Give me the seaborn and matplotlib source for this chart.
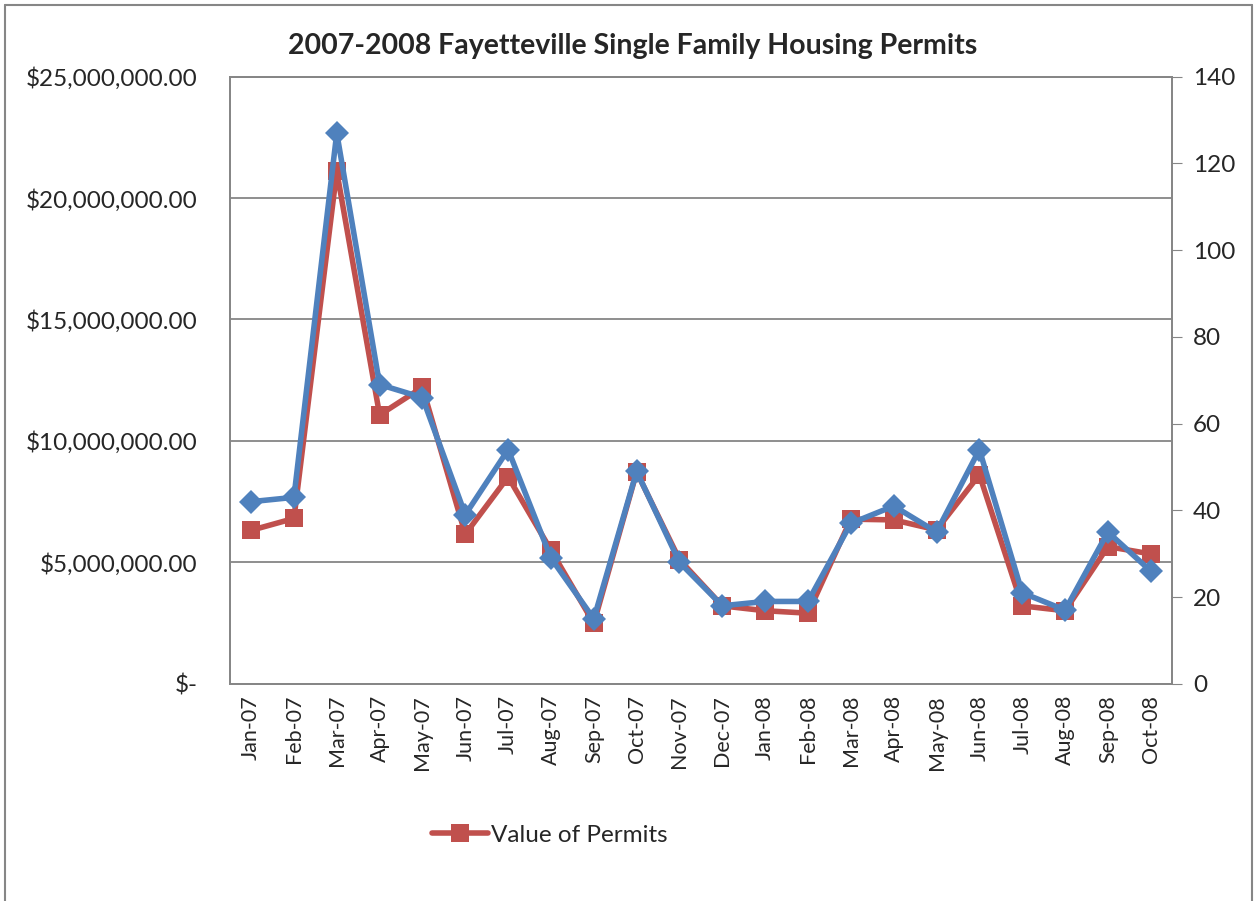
import numpy as np
import pandas as pd
import seaborn as sns
import matplotlib.pyplot as plt
from matplotlib.lines import Line2D
from matplotlib.ticker import FuncFormatter

months = ["Jan-07", "Feb-07", "Mar-07", "Apr-07", "May-07", "Jun-07", "Jul-07",
          "Aug-07", "Sep-07", "Oct-07", "Nov-07", "Dec-07", "Jan-08", "Feb-08",
          "Mar-08", "Apr-08", "May-08", "Jun-08", "Jul-08", "Aug-08", "Sep-08",
          "Oct-08"]
permit_values = [6320000, 6810000, 21100000, 11070000, 12210000, 6160000, 8520000,
                 5500000, 2490000, 8720000, 5110000, 3210000, 3010000, 2910000,
                 6780000, 6750000, 6340000, 8610000, 3210000, 3010000, 5650000,
                 5350000]
permit_counts = [42, 43, 127, 69, 66, 39, 54, 29, 15, 49, 28, 18, 19, 19,
                 37, 41, 35, 54, 21, 17, 35, 26]

df = pd.DataFrame({"month": months, "value": permit_values, "count": permit_counts})

sns.set_style("white")
plt.rcParams["font.family"] = ["Lato", "DejaVu Sans"]

red = "#C0504D"
blue = "#4F81BD"
grid_c = "#868686"

fig = plt.figure(figsize=(12.55, 9.01), dpi=100)
ax = fig.add_axes([0.183, 0.241, 0.751, 0.674])

sns.lineplot(data=df, x="month", y="value", ax=ax, color=red, linewidth=4,
             marker="s", markersize=13, markeredgewidth=0, sort=False, zorder=3)
ax2 = ax.twinx()
sns.lineplot(data=df, x="month", y="count", ax=ax2, color=blue, linewidth=4,
             marker="D", markersize=12, markeredgewidth=0, sort=False, zorder=4)

ax.set_ylim(0, 25000000)
ax.set_yticks(np.arange(0, 25000001, 5000000))
ax.yaxis.set_major_formatter(FuncFormatter(lambda v, p: "$-" if v == 0 else f"${v:,.2f}"))
ax2.set_ylim(0, 140)
ax2.set_yticks(np.arange(0, 141, 20))
ax.set_xlim(-0.5, len(months) - 0.5)

ax.grid(axis="y", color=grid_c, linewidth=1.3)
ax.set_xlabel("")
ax.set_ylabel("")
ax2.set_ylabel("")
ax.tick_params(axis="x", labelrotation=90, labelsize=15.5, length=0, pad=8)
ax.tick_params(axis="y", labelsize=17.5, length=0, pad=23)
ax2.tick_params(axis="y", labelsize=17.5, direction="out", length=7, color=grid_c, pad=8)

for a in (ax, ax2):
    for s in a.spines.values():
        s.set_color(grid_c)
        s.set_linewidth(1.3)
ax2.set_zorder(ax.get_zorder() + 1)

fig.text(0.504, 0.949, "2007-2008 Fayetteville Single Family Housing Permits",
         ha="center", va="center", fontsize=20.5, fontweight="bold")

handle = Line2D([], [], color=red, linewidth=4, marker="s", markersize=13,
                markeredgewidth=0)
fig.legend([handle], ["Value of Permits"], loc="center left",
           bbox_to_anchor=(0.327, 0.073), frameon=False, fontsize=17.5,
           handlelength=2.3, handletextpad=0.1)

# chart border
fig.add_artist(Line2D([0.004, 0.004], [0, 0.995], color=grid_c, lw=1.5, transform=fig.transFigure))
fig.add_artist(Line2D([0.004, 0.998], [0.995, 0.995], color=grid_c, lw=1.5, transform=fig.transFigure))
fig.add_artist(Line2D([0.998, 0.998], [0, 0.995], color=grid_c, lw=1.5, transform=fig.transFigure))

plt.savefig("out.png", dpi=100)
